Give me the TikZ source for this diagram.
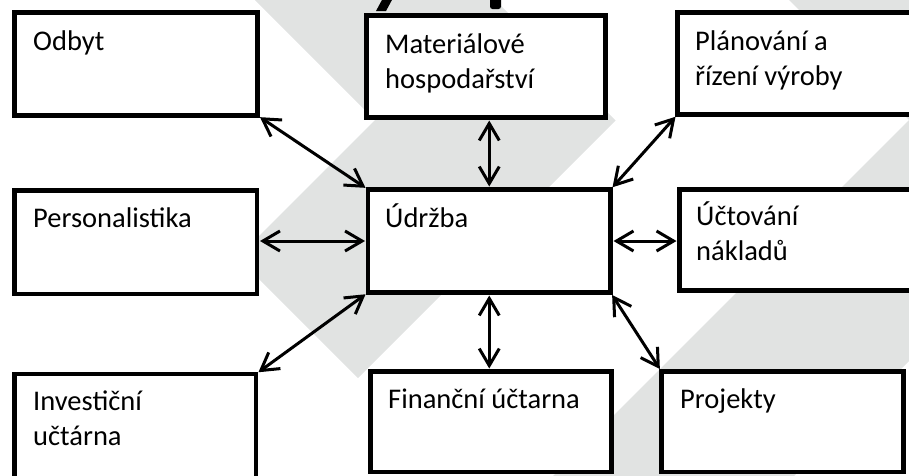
\documentclass[tikz,border=0pt]{standalone}
\usepackage{fontspec}
\setmainfont{Carlito}
\usetikzlibrary{arrows.meta}
\definecolor{wmgray}{RGB}{225,227,226}
\newcommand\twolines[2]{\begin{tabular}[t]{@{}l@{}}#1\\#2\end{tabular}}
\begin{document}
\begin{tikzpicture}[x=1pt,y=-1pt,
  box/.style={draw, line width=4.2pt, fill=white, inner sep=0pt, outer sep=0pt, anchor=north west},
  lbl/.style={anchor=base west, inner sep=0pt, font=\fontsize{28.5}{35}\selectfont},
  link/.style={line width=3pt, {Straight Barb[length=17pt,width=20pt]}-{Straight Barb[length=17pt,width=20pt]}, shorten <=3pt, shorten >=3pt}]
\useasboundingbox (0,0) rectangle (909,475);
\clip (0,0) rectangle (909,475);

% background chevrons
\fill[wmgray] (225,-30) -- (375,120) -- (237.5,257.5) -- (358,378) -- (615.5,120.5) -- (465,-30) -- cycle;
\fill[wmgray] (759,-30) -- (909,120) -- (500,529) -- (620.5,649.5) -- (1149.5,120.5) -- (999,-30) -- cycle;

% descenders of the heading above
\fill (383,-2) -- (393,-2) -- (386,11) -- (376,11) -- cycle;
\fill[rounded corners=2.5pt] (490,-8) rectangle (501,9);

% boxes
\node[box, minimum width=243pt,   minimum height=103pt]   (odbyt) at (14.5,12.5)  {};
\node[box, minimum width=239pt,   minimum height=102pt]   (mat)   at (366.5,15.5) {};
\node[box, minimum width=252.5pt, minimum height=102pt]   (plan)  at (677.5,12.5) {};
\node[box, minimum width=242.5pt, minimum height=103.5pt] (pers)  at (14.5,190.5) {};
\node[box, minimum width=242.5pt, minimum height=103pt]   (udrz)  at (368,189.5)  {};
\node[box, minimum width=250.5pt, minimum height=101pt]   (uct)   at (679.5,189.5){};
\node[box, minimum width=241.5pt, minimum height=116pt]   (inv)   at (14.5,374)   {};
\node[box, minimum width=241pt,   minimum height=100.5pt] (fin)   at (370.5,371.5){};
\node[box, minimum width=242pt,   minimum height=100.5pt] (proj)  at (661.5,371.5){};

% labels
\node[lbl] (t-odbyt) at (33,50)   {Odbyt};
\node[lbl] (t-mat)   at (385,53)  {\twolines{Materiálové}{hospodařství}};
\node[lbl] (t-plan)  at (695,50)  {\twolines{Plánování a}{řízení výroby}};
\node[lbl] (t-pers)  at (33,227)  {Personalistika};
\node[lbl] (t-udrz)  at (385,227) {Údržba};
\node[lbl] (t-uct)   at (696,225) {\twolines{Účtování}{nákladů}};
\node[lbl] (t-inv)   at (33,410)  {\twolines{Investiční}{učtárna}};
\node[lbl] (t-fin)   at (388,408) {Finanční účtarna};
\node[lbl] (t-proj)  at (680,408) {Projekty};

% connectors
\draw[link] (odbyt.south east) -- (udrz.north west);
\draw[link] (udrz.north |- mat.south) -- (udrz.north);
\draw[link] (plan.south west) -- (udrz.north east);
\draw[link] (pers.east |- udrz.west) -- (udrz.west);
\draw[link] (udrz.east) -- (uct.west |- udrz.east);
\draw[link] (inv.north east) -- (udrz.south west);
\draw[link] (udrz.south) -- (udrz.south |- fin.north);
\draw[link] (udrz.south east) -- (proj.north west);
\end{tikzpicture}
\end{document}
